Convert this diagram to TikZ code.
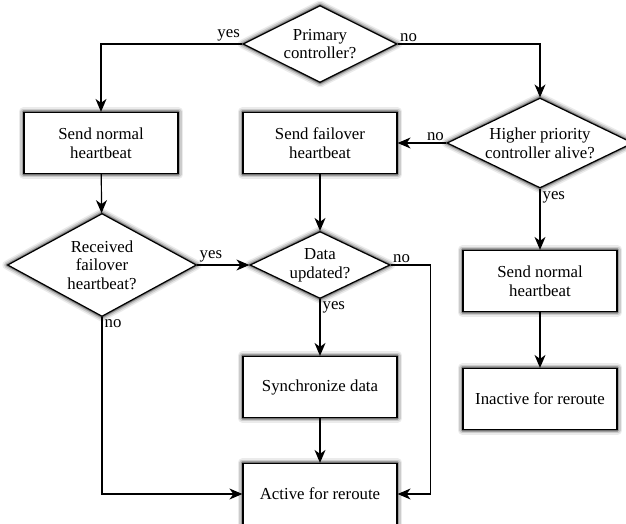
\documentclass[tikz,border=0pt]{standalone}
\usepackage{fontspec}
\setmainfont{Liberation Serif}
\usetikzlibrary{shapes.geometric,arrows.meta}
\pgfdeclarelayer{background}
\pgfsetlayers{background,main}
\tikzset{
    flow-box/.style = {draw, fill=white, line width=1.2pt, rectangle, minimum width=154pt, minimum height=61pt, align=center},
    flow-decision/.style = {draw, fill=white, line width=1.2pt, diamond, inner sep=0pt, shape aspect=2, align=center},
    flow-shadow/.style = {line join=round, xshift=1pt, yshift=-4.5pt},
    flow-arrow/.style = {line width=1.2pt, -{Stealth[length=13pt, width=11pt, inset=4pt]}},
    flow-label/.style = {inner sep=2pt},
}

\begin{document}
\begin{tikzpicture}[x=1pt, y=1pt, font=\fontsize{16.8}{18.7}\selectfont]
\useasboundingbox (0,0) rectangle (626,-524);

\node[flow-decision, minimum width=154pt, minimum height=77pt] (primary) at (320,-44) {Primary\\controller?};
\node[flow-box] (send-normal) at (101,-143) {Send normal\\heartbeat};
\node[flow-box] (send-failover) at (320,-143) {Send failover\\heartbeat};
\node[flow-decision, minimum width=186pt, minimum height=90pt] (higher) at (540,-143) {Higher priority\\controller alive?};
\node[flow-decision, shape aspect=1.8, minimum width=189pt, minimum height=103pt] (received) at (102,-265) {Received\\failover\\heartbeat?};
\node[flow-decision, minimum width=140pt, minimum height=67pt] (updated) at (320,-265) {Data\\updated?};
\node[flow-box] (send-normal-b) at (540,-281) {Send normal\\heartbeat};
\node[flow-box] (inactive) at (540,-399) {Inactive for reroute};
\node[flow-box] (sync) at (320,-387) {Synchronize data};
\node[flow-box] (active) at (320,-494) {Active for reroute};

\draw[flow-arrow] (primary.west) node[flow-label, above left] {yes} -| (send-normal.north);
\draw[flow-arrow] (primary.east) node[flow-label, above right] {no} -| (higher.north);
\draw[flow-arrow] (higher.west) node[flow-label, above left] {no} -- (send-failover.east);
\draw[flow-arrow] (higher.south) node[flow-label, below right] {yes} -- (send-normal-b.north);
\draw[flow-arrow] (send-normal-b) -- (inactive);
\draw[flow-arrow] (send-normal) -- (received);
\draw[flow-arrow] (send-failover) -- (updated);
\draw[flow-arrow] (received.east) node[flow-label, above right] {yes} -- (updated.west);
\draw[flow-arrow] (updated.south) node[flow-label, below right] {yes} -- (sync.north);
\draw[flow-arrow] (sync) -- (active);
\draw[flow-arrow] (received.south) node[flow-label, below right] {no} |- (active.west);
\draw[flow-arrow] (updated.east) node[flow-label, above right] {no} -- ++(40,0) |- (active.east);

\begin{pgfonlayer}{background}
\foreach \w/\c in {9/8, 6/20, 3/38, 1/55}{
    \foreach \n in {send-normal, send-failover, send-normal-b, inactive, sync, active}
        \draw[flow-shadow, draw=black!\c, fill=black!\c, line width=\w pt] (\n.south west) rectangle (\n.north east);
    \foreach \n in {primary, higher, received, updated}
        \draw[flow-shadow, draw=black!\c, fill=black!\c, line width=\w pt] (\n.west) -- (\n.north) -- (\n.east) -- (\n.south) -- cycle;
}
\end{pgfonlayer}
\end{tikzpicture}
\end{document}
